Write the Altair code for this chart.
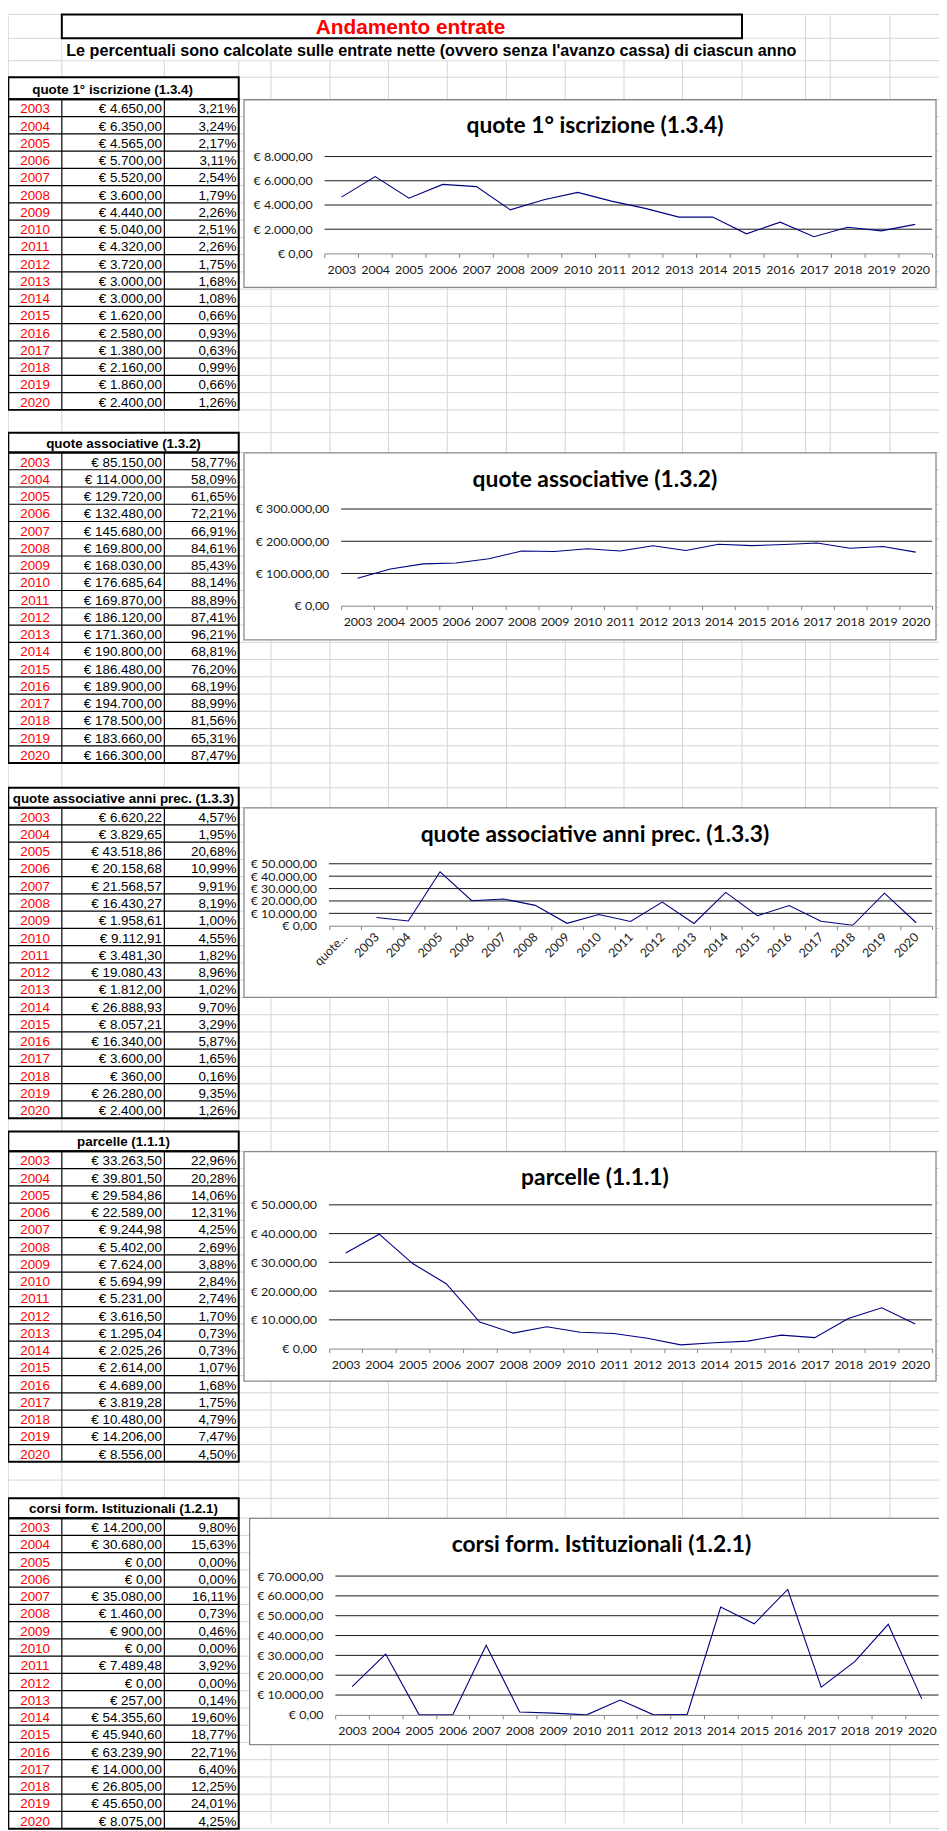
import altair as alt
import pandas as pd

# ---------------- data ----------------
YEARS = list(range(2003, 2021))

TITLE = "Andamento entrate"
SUBTITLE = "Le percentuali sono calcolate sulle entrate nette (ovvero senza l'avanzo cassa) di ciascun anno"

NAMES = ["quote 1° iscrizione (1.3.4)", "quote associative (1.3.2)",
         "quote associative anni prec. (1.3.3)", "parcelle (1.1.1)",
         "corsi form. Istituzionali (1.2.1)"]

ISCRIZIONE = [4650.00, 6350.00, 4565.00, 5700.00, 5520.00, 3600.00, 4440.00, 5040.00, 4320.00,
              3720.00, 3000.00, 3000.00, 1620.00, 2580.00, 1380.00, 2160.00, 1860.00, 2400.00]
ISCRIZIONE_PCT = [3.21, 3.24, 2.17, 3.11, 2.54, 1.79, 2.26, 2.51, 2.26,
                  1.75, 1.68, 1.08, 0.66, 0.93, 0.63, 0.99, 0.66, 1.26]
ASSOCIATIVE = [85150.00, 114000.00, 129720.00, 132480.00, 145680.00, 169800.00, 168030.00, 176685.64,
               169870.00, 186120.00, 171360.00, 190800.00, 186480.00, 189900.00, 194700.00, 178500.00,
               183660.00, 166300.00]
ASSOCIATIVE_PCT = [58.77, 58.09, 61.65, 72.21, 66.91, 84.61, 85.43, 88.14, 88.89,
                   87.41, 96.21, 68.81, 76.20, 68.19, 88.99, 81.56, 65.31, 87.47]
ANNI_PREC = [6620.22, 3829.65, 43518.86, 20158.68, 21568.57, 16430.27, 1958.61, 9112.91, 3481.30,
             19080.43, 1812.00, 26888.93, 8057.21, 16340.00, 3600.00, 360.00, 26280.00, 2400.00]
ANNI_PREC_PCT = [4.57, 1.95, 20.68, 10.99, 9.91, 8.19, 1.00, 4.55, 1.82,
                 8.96, 1.02, 9.70, 3.29, 5.87, 1.65, 0.16, 9.35, 1.26]
PARCELLE = [33263.50, 39801.50, 29584.86, 22589.00, 9244.98, 5402.00, 7624.00, 5694.99, 5231.00,
            3616.50, 1295.04, 2025.26, 2614.00, 4689.00, 3819.28, 10480.00, 14206.00, 8556.00]
PARCELLE_PCT = [22.96, 20.28, 14.06, 12.31, 4.25, 2.69, 3.88, 2.84, 2.74,
                1.70, 0.73, 0.73, 1.07, 1.68, 1.75, 4.79, 7.47, 4.50]
CORSI = [14200.00, 30680.00, 0.00, 0.00, 35080.00, 1460.00, 900.00, 0.00, 7489.48,
         0.00, 257.00, 54355.60, 45940.60, 63239.90, 14000.00, 26805.00, 45650.00, 8075.00]
CORSI_PCT = [9.80, 15.63, 0.00, 0.00, 16.11, 0.73, 0.46, 0.00, 3.92,
             0.00, 0.14, 19.60, 18.77, 22.71, 6.40, 12.25, 24.01, 4.25]

SERIES = [ISCRIZIONE, ASSOCIATIVE, ANNI_PREC, PARCELLE, CORSI]
PCTS = [ISCRIZIONE_PCT, ASSOCIATIVE_PCT, ANNI_PREC_PCT, PARCELLE_PCT, CORSI_PCT]
AXIS_MAX = [8000, 300000, 50000, 50000, 70000]
AXIS_STEP = [2000, 100000, 10000, 10000, 10000]
EXTRA_CAT = [None, None, "quote...", None, None]

# ---------------- layout (reference pixels) ----------------
W, H = 939, 1823
OX, OY = 8.0, 8.0


def vx(x):
    return round(x - OX, 2)


def vy(y):
    return round(y - OY, 2)


ROW = 17.4
NROW = 18
HEAD_TOP = [70.0, 428.5, 786.7, 1133.3, 1503.3]
DATA_TOP = [92.3, 448.5, 806.7, 1153.3, 1523.3]
TX = [8.3, 62.3, 165.7, 240.7]
GRID_X = TX + [273.3, 332.7, 391.7, 451.0, 510.7, 570.0, 629.3, 688.3, 748.3, 812.3, 837.3, 897.5]
GRID_Y = [6.7, 30.7, 53.3, 1484.9]
for k in range(5):
    GRID_Y.append(HEAD_TOP[k])
    GRID_Y += [DATA_TOP[k] + ROW * n for n in range(NROW + 1)]
HEAD_CX = [113.5, 124.5, 124.5, 124.5, 124.5]

CH = [
    dict(box=(246.0, 944.0, 92.7, 282.0), px=(327.3, 940.0), py=(150.0, 247.7), tx=600.0),
    dict(box=(246.0, 944.0, 448.8, 637.5), px=(344.0, 940.0), py=(505.5, 603.0), tx=600.0),
    dict(box=(246.0, 944.0, 807.0, 998.0), px=(331.7, 940.0), py=(863.3, 925.8), tx=600.0),
    dict(box=(246.0, 944.0, 1153.6, 1385.0), px=(331.7, 940.0), py=(1207.3, 1352.3), tx=600.0),
    dict(box=(251.7, 952.0, 1523.6, 1751.7), px=(338.2, 946.5), py=(1581.7, 1721.7), tx=606.5),
]

SHEET_FONT = "Liberation Sans"
CHART_FONT = "Lato"


def fmt_eur(v):
    s = f"{v:,.2f}".replace(",", "#").replace(".", ",").replace("#", ".")
    return "€ " + s


def fmt_pct(p):
    return f"{p:.2f}".replace(".", ",") + "%"


def X(f):
    return alt.X(f, scale=None, axis=None)


def Y(f):
    return alt.Y(f, scale=None, axis=None)


def hrules(rows, color, width):
    df = pd.DataFrame(rows, columns=["x", "x2", "y"])
    return alt.Chart(df).mark_rule(color=color, strokeWidth=width).encode(
        x=X("x:Q"), x2="x2:Q", y=Y("y:Q"))


def vrules(rows, color, width):
    df = pd.DataFrame(rows, columns=["x", "y", "y2"])
    return alt.Chart(df).mark_rule(color=color, strokeWidth=width).encode(
        x=X("x:Q"), y=Y("y:Q"), y2="y2:Q")


def rects(rows, **style):
    df = pd.DataFrame(rows, columns=["x", "x2", "y", "y2"])
    return alt.Chart(df).mark_rect(**style).encode(
        x=X("x:Q"), x2="x2:Q", y=Y("y:Q"), y2="y2:Q")


def texts(rows, **style):
    df = pd.DataFrame(rows, columns=["x", "y", "t"])
    return alt.Chart(df).mark_text(**style).encode(x=X("x:Q"), y=Y("y:Q"), text="t:N")


def R(r):
    return tuple(vx(v) if i < 2 else vy(v) for i, v in enumerate(r))


layers = []

# spreadsheet grid
GRID_C = "#d4d4d4"
layers.append(hrules([(vx(TX[0]), W, vy(y)) for y in GRID_Y], GRID_C, 1))
layers.append(vrules([(vx(x), 0, H) for x in GRID_X], GRID_C, 1))

# white areas (text overflow and tables)
white = [R((62.8, 811.8, 31.2, 52.8))]
for k in range(5):
    white.append(R((TX[0], TX[3], HEAD_TOP[k], DATA_TOP[k] + ROW * NROW)))
layers.append(rects(white, fill="white"))

# title box
layers.append(rects([R((62.3, 748.3, 6.7, 30.7))], fill="white", stroke="black", strokeWidth=2))

# table borders
thick, thin_h, thin_v = [], [], []
for k in range(5):
    bot = DATA_TOP[k] + ROW * NROW
    thick.append(R((TX[0], TX[3], HEAD_TOP[k], DATA_TOP[k])))
    thick.append(R((TX[0], TX[3], DATA_TOP[k], bot)))
    for n in range(1, NROW):
        thin_h.append((vx(TX[0]), vx(TX[3]), vy(DATA_TOP[k] + ROW * n)))
    for x in (TX[1], TX[2]):
        thin_v.append((vx(x), vy(DATA_TOP[k]), vy(bot)))
layers.append(hrules(thin_h, "black", 1.2))
layers.append(vrules(thin_v, "black", 1.2))
layers.append(rects(thick, fill="white", fillOpacity=0, stroke="black", strokeWidth=2))

# table texts
yr_rows, amt_rows, pct_rows, head_rows = [], [], [], []
for k in range(5):
    head_rows.append((vx(HEAD_CX[k]), vy(DATA_TOP[k] - 5.0), NAMES[k]))
    for i, yv in enumerate(YEARS):
        by = vy(DATA_TOP[k] + ROW * i + 14.2)
        yr_rows.append((vx(35.3), by, str(yv)))
        amt_rows.append((vx(163.3), by, fmt_eur(SERIES[k][i])))
        pct_rows.append((vx(238.3), by, fmt_pct(PCTS[k][i])))
base_txt = dict(font=SHEET_FONT, fontSize=13.5, baseline="alphabetic")
layers.append(texts(yr_rows, align="center", color="#ff0000", **base_txt))
layers.append(texts(amt_rows, align="right", color="black", **base_txt))
layers.append(texts(pct_rows, align="right", color="black", **base_txt))
layers.append(texts(head_rows, align="center", color="black", fontWeight="bold", **base_txt))

# sheet title and subtitle
layers.append(texts([(vx(414.0), vy(26.5), TITLE)], align="center", color="#ff0000",
                    font=SHEET_FONT, fontSize=21, fontWeight="bold", baseline="alphabetic"))
layers.append(texts([(vx(66.7), vy(49.0), SUBTITLE)], align="left", color="black",
                    font=SHEET_FONT, fontSize=16.3, fontWeight="bold", baseline="alphabetic"))

# chart boxes
layers.append(rects([R(g["box"]) for g in CH], fill="white", stroke="#8a8a8a", strokeWidth=1.3))

# chart titles
layers.append(texts([(vx(g["tx"]), vy(g["box"][2] + 34.0), NAMES[k]) for k, g in enumerate(CH)],
                    align="center", color="black", font=CHART_FONT, fontSize=23,
                    fontWeight="bold", baseline="alphabetic"))

EUR_EXPR = ("'€ ' + replace(replace(replace(format(datum.value, ',.2f'), ',', '#'), '.', ','), '#', '.')")


def section(k):
    g = CH[k]
    px0, px1 = g["px"]
    ytop, y0 = g["py"]
    cats = [str(y) for y in YEARS]
    domain = ([EXTRA_CAT[k]] if EXTRA_CAT[k] else []) + cats
    ticks = list(range(0, AXIS_MAX[k] + 1, AXIS_STEP[k]))
    angled = EXTRA_CAT[k] is not None
    xs = alt.Scale(type="band", domain=domain, range=[vx(px0), vx(px1)], paddingInner=0, paddingOuter=0)
    ys = alt.Scale(type="linear", domain=[0, AXIS_MAX[k]], range=[vy(y0), vy(ytop)], nice=False, zero=False)
    xaxis = alt.Axis(orient="bottom", offset=vy(y0) - H, domainColor="#868686", domainWidth=1,
                     tickColor="#868686", tickSize=4, tickBand="extent",
                     labelPadding=5 if angled else 6, labelAngle=-45 if angled else 0,
                     labelAlign="right" if angled else "center",
                     labelBaseline="middle" if angled else "top",
                     labelOverlap=False, grid=False, zindex=1,
                     labelFont=CHART_FONT, labelFontSize=12.5, labelColor="#1a1a1a")
    yaxis = alt.Axis(orient="left", offset=-vx(px0), values=ticks, labelExpr=EUR_EXPR,
                     ticks=False, domain=False, grid=False, labelPadding=12.5, zindex=1,
                     labelOverlap=False, labelFont=CHART_FONT, labelFontSize=12.5,
                     labelColor="#1a1a1a")
    grid = alt.Chart(pd.DataFrame({"t": ticks[1:]})).mark_rule(color="#1a1a1a", strokeWidth=1).encode(
        y=alt.Y("t:Q", scale=ys, axis=yaxis, title=None),
        x=alt.value(vx(px0)), x2=alt.value(vx(px1)))
    line = alt.Chart(pd.DataFrame({"cat": cats, "v": SERIES[k]})).mark_line(
        color="#000080", strokeWidth=1.1).encode(
        x=alt.X("cat:N", scale=xs, axis=xaxis, sort=domain, bandPosition=0.5, title=None),
        y=alt.Y("v:Q", scale=ys, axis=yaxis, title=None))
    return alt.layer(grid, line)


for k in range(5):
    layers.append(section(k))

chart = alt.layer(*layers).resolve_scale(x="independent", y="independent").properties(
    width=W, height=H, autosize=alt.AutoSizeParams(type="none"), padding=0, background="white"
).configure_view(stroke=None)

chart.save("out.html", embed_options={"renderer": "svg", "actions": False})
